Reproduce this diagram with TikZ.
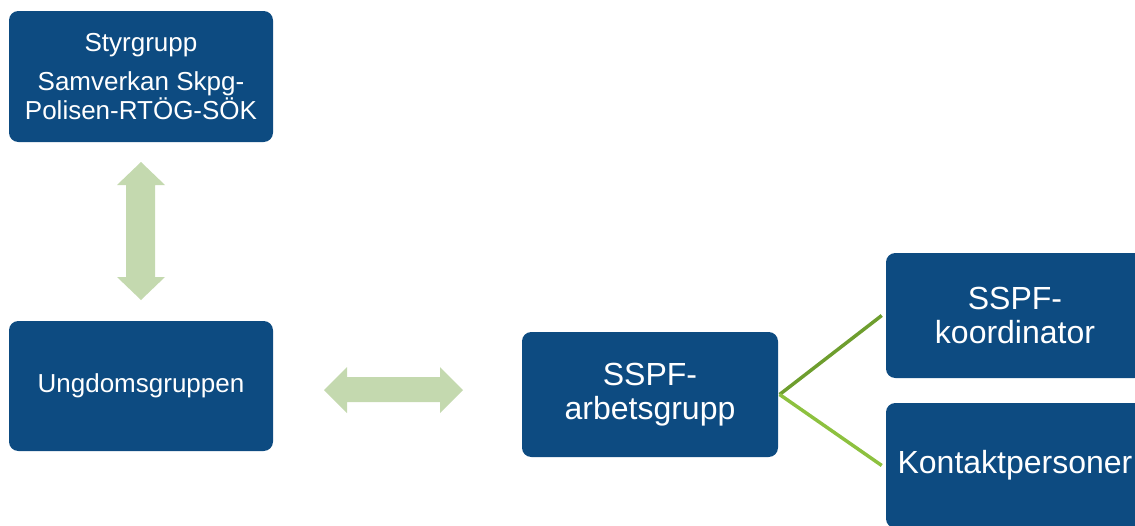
\documentclass[tikz,border=0pt]{standalone}
\usepackage{fontspec}
\setmainfont{Liberation Sans}
\definecolor{boxblue}{HTML}{0D4B81}
\definecolor{arrowgreen}{HTML}{C4D9AF}
\definecolor{linedark}{HTML}{6E9E2E}
\definecolor{linelight}{HTML}{8DC13F}
\begin{document}
\begin{tikzpicture}[x=0.75pt,y=-0.75pt,
  box/.style={fill=boxblue, draw=none, rounded corners=7pt, text=white, align=center, inner sep=0pt},
  smalltext/.style={font=\fontsize{19.5pt}{19.5pt}\selectfont},
  bigtext/.style={font=\fontsize{24pt}{25pt}\selectfont},
  blockarrow/.style={fill=arrowgreen, draw=none}]
\useasboundingbox (0,0) rectangle (1135,525);
\node[box, smalltext, minimum width=198pt, minimum height=98.25pt] (styr) at (141,76.5)
  {Styrgrupp\\[9.75pt]Samverkan Skpg-\\Polisen-RTÖG-SÖK};
\node[box, smalltext, minimum width=198pt, minimum height=97.5pt] (ung) at (141,386) {Ungdomsgruppen};
\node[box, bigtext, minimum width=192pt, minimum height=93.75pt] (arb) at (650,394.5) {SSPF-\\arbetsgrupp};
\node[box, bigtext, minimum width=193.5pt, minimum height=93.75pt] (koord) at (1015,315.5) {SSPF-\\koordinator};
\node[box, bigtext, minimum width=193.5pt, minimum height=93.75pt] (kontakt) at (1015,465.5) {Kontaktpersoner};
% vertical block arrow
\fill[blockarrow] (141,162) -- (165,185) -- (155,185) -- (155,277) -- (165,277) -- (141,300)
  -- (117,277) -- (126,277) -- (126,185) -- (117,185) -- cycle;
% horizontal block arrow
\fill[blockarrow] (324,390) -- (347,367) -- (347,377) -- (440,377) -- (440,367) -- (463,390)
  -- (440,413) -- (440,402) -- (347,402) -- (347,413) -- cycle;
% connectors
\draw[linedark, line width=2.6pt] ([xshift=1pt]arb.east) -- ([xshift=-3pt]koord.west);
\draw[linelight, line width=2.6pt] ([xshift=1pt]arb.east) -- ([xshift=-3pt]kontakt.west);
\end{tikzpicture}
\end{document}
